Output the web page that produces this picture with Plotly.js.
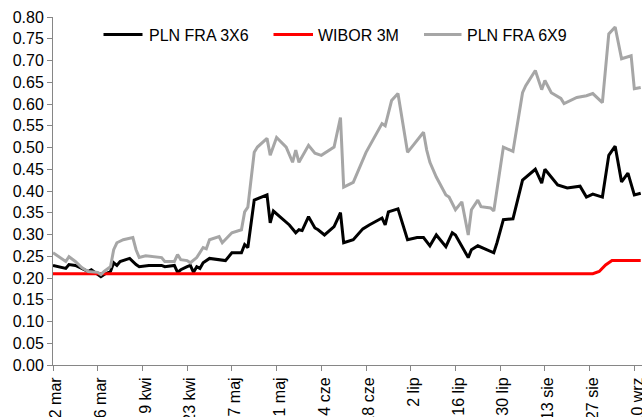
<!DOCTYPE html>
<html>
<head>
<meta charset="utf-8">
<script src="https://cdn.plot.ly/plotly-3.0.1.min.js"></script>
<style>html,body{margin:0;padding:0;background:#fff;}#chart{width:642px;height:417px;}</style>
</head>
<body>
<div id="chart"></div>
<script>
// PLN FRA 3X6
const fra36Dates = ["2021-03-12","2021-03-16","2021-03-17","2021-03-19","2021-03-21","2021-03-23","2021-03-24","2021-03-26","2021-03-27","2021-03-28","2021-03-30","2021-03-31","2021-04-01","2021-04-02","2021-04-05","2021-04-07","2021-04-08","2021-04-11","2021-04-15","2021-04-16","2021-04-19","2021-04-20","2021-04-21","2021-04-23","2021-04-24","2021-04-25","2021-04-26","2021-04-27","2021-04-28","2021-04-30","2021-05-05","2021-05-07","2021-05-10","2021-05-11","2021-05-12","2021-05-14","2021-05-18","2021-05-19","2021-05-20","2021-05-22","2021-05-25","2021-05-27","2021-05-28","2021-05-29","2021-05-31","2021-06-02","2021-06-03","2021-06-05","2021-06-08","2021-06-10","2021-06-11","2021-06-14","2021-06-17","2021-06-19","2021-06-22","2021-06-23","2021-06-24","2021-06-25","2021-06-28","2021-06-29","2021-07-01","2021-07-04","2021-07-06","2021-07-08","2021-07-10","2021-07-13","2021-07-15","2021-07-16","2021-07-20","2021-07-21","2021-07-23","2021-07-28","2021-07-29","2021-07-31","2021-08-03","2021-08-06","2021-08-10","2021-08-12","2021-08-13","2021-08-17","2021-08-20","2021-08-24","2021-08-26","2021-08-28","2021-08-31","2021-09-02","2021-09-04","2021-09-06","2021-09-08","2021-09-10","2021-09-12"];
const fra36Values = [0.229,0.222,0.231,0.229,0.222,0.215,0.219,0.208,0.203,0.208,0.215,0.235,0.229,0.238,0.245,0.231,0.226,0.229,0.229,0.226,0.229,0.213,0.219,0.226,0.229,0.213,0.226,0.222,0.235,0.245,0.240,0.258,0.258,0.277,0.270,0.379,0.391,0.327,0.354,0.341,0.322,0.304,0.311,0.309,0.341,0.315,0.311,0.299,0.318,0.350,0.281,0.288,0.313,0.322,0.334,0.338,0.322,0.352,0.359,0.334,0.288,0.293,0.293,0.274,0.299,0.272,0.304,0.299,0.247,0.265,0.274,0.258,0.281,0.334,0.336,0.425,0.450,0.418,0.450,0.414,0.407,0.411,0.386,0.393,0.386,0.482,0.503,0.421,0.441,0.391,0.395];

// WIBOR 3M
const wiborDates = ["2021-03-12","2021-08-28","2021-08-30","2021-08-31","2021-09-01","2021-09-03","2021-09-12"];
const wiborValues = [0.21,0.21,0.215,0.222,0.23,0.24,0.24];

// PLN FRA 6X9
const fra69Dates = ["2021-03-12","2021-03-16","2021-03-17","2021-03-19","2021-03-21","2021-03-23","2021-03-26","2021-03-27","2021-03-28","2021-03-30","2021-03-31","2021-04-01","2021-04-03","2021-04-05","2021-04-06","2021-04-07","2021-04-08","2021-04-10","2021-04-13","2021-04-15","2021-04-16","2021-04-19","2021-04-20","2021-04-21","2021-04-23","2021-04-24","2021-04-26","2021-04-27","2021-04-28","2021-04-29","2021-04-30","2021-05-03","2021-05-04","2021-05-07","2021-05-10","2021-05-11","2021-05-12","2021-05-14","2021-05-15","2021-05-18","2021-05-19","2021-05-21","2021-05-24","2021-05-26","2021-05-27","2021-05-28","2021-05-31","2021-06-02","2021-06-04","2021-06-08","2021-06-10","2021-06-11","2021-06-14","2021-06-18","2021-06-21","2021-06-23","2021-06-24","2021-06-26","2021-06-28","2021-07-01","2021-07-02","2021-07-06","2021-07-07","2021-07-08","2021-07-10","2021-07-13","2021-07-14","2021-07-16","2021-07-18","2021-07-20","2021-07-21","2021-07-23","2021-07-24","2021-07-27","2021-07-28","2021-07-31","2021-08-03","2021-08-06","2021-08-07","2021-08-10","2021-08-12","2021-08-13","2021-08-15","2021-08-18","2021-08-19","2021-08-23","2021-08-26","2021-08-28","2021-08-31","2021-09-02","2021-09-04","2021-09-06","2021-09-09","2021-09-10","2021-09-12"];
const fra69Values = [0.258,0.238,0.249,0.238,0.224,0.215,0.213,0.208,0.215,0.226,0.265,0.281,0.288,0.291,0.293,0.265,0.247,0.251,0.249,0.247,0.238,0.238,0.254,0.242,0.240,0.235,0.247,0.258,0.270,0.267,0.288,0.295,0.281,0.304,0.311,0.352,0.363,0.489,0.501,0.521,0.482,0.523,0.501,0.466,0.494,0.466,0.505,0.487,0.482,0.501,0.569,0.409,0.420,0.489,0.528,0.555,0.550,0.608,0.624,0.489,0.498,0.535,0.494,0.466,0.432,0.391,0.386,0.357,0.375,0.299,0.357,0.379,0.364,0.361,0.354,0.501,0.491,0.626,0.642,0.677,0.633,0.654,0.626,0.613,0.601,0.615,0.619,0.624,0.603,0.761,0.777,0.704,0.711,0.635,0.638];

// X axis ticks
const tickDates = ["2021-03-12","2021-03-26","2021-04-09","2021-04-23","2021-05-07","2021-05-21","2021-06-04","2021-06-18","2021-07-02","2021-07-16","2021-07-30","2021-08-13","2021-08-27","2021-09-10"];
const tickLabels = ["12 mar","26 mar","9 kwi","23 kwi","7 maj","21 maj","4 cze","18 cze","2 lip","16 lip","30 lip","13 sie","27 sie","10 wrz"];

// Series names and colours
const seriesNames = ['PLN FRA 3X6', 'WIBOR 3M', 'PLN FRA 6X9'];
const seriesColors = ['#000000', '#ff0000', '#a6a6a6'];

const font = {family: '"Liberation Sans", Arial, sans-serif', size: 16, color: '#000'};
const axisGrey = '#868686';

const seriesX = [fra36Dates, wiborDates, fra69Dates];
const seriesY = [fra36Values, wiborValues, fra69Values];

const traces = seriesNames.map((name, i) => ({
  x: seriesX[i], y: seriesY[i], name: name, type: 'scatter', mode: 'lines',
  line: {color: seriesColors[i], width: 3}
}));

// Hand-built legend (paper coordinates) to match the original spacing
const L = 53, PW = 589, PB = 365, PH = 348;
const px = v => (v - L) / PW;
const py = v => (PB - v) / PH;
const legendItems = [
  {x0: 103.5, x1: 142.5, tx: 146.5},
  {x0: 273.5, x1: 313, tx: 315.5},
  {x0: 424, x1: 461.5, tx: 464.5}
];
const legendY = 34.5;
const shapes = legendItems.map((it, i) => ({
  type: 'line', xref: 'paper', yref: 'paper',
  x0: px(it.x0), x1: px(it.x1), y0: py(legendY), y1: py(legendY),
  line: {color: seriesColors[i], width: 3}
}));
const annotations = legendItems.map((it, i) => ({
  xref: 'paper', yref: 'paper', x: px(it.tx), y: py(legendY + 0.5),
  xanchor: 'left', yanchor: 'middle', showarrow: false,
  text: seriesNames[i], font: font
}));

const layout = {
  width: 642, height: 417,
  margin: {l: 53, r: 0, t: 17, b: 52, pad: 0},
  paper_bgcolor: '#fff', plot_bgcolor: '#fff',
  font: font,
  showlegend: false,
  shapes: shapes,
  annotations: annotations,
  xaxis: {
    type: 'date',
    range: ['2021-03-12', '2021-09-12 09:36'],
    tickvals: tickDates, ticktext: tickLabels, tickangle: -90,
    ticklabeloverflow: 'allow', ticklabelshift: 3,
    showline: true, linecolor: axisGrey, linewidth: 1,
    ticks: 'outside', ticklen: 5, tickcolor: axisGrey,
    showgrid: false, zeroline: false, tickfont: font
  },
  yaxis: {
    range: [0, 0.8], dtick: 0.05, tick0: 0, tickformat: '.2f',
    showline: true, linecolor: axisGrey, linewidth: 1,
    ticks: 'outside', ticklen: 5, tickcolor: axisGrey,
    showgrid: false, zeroline: false, tickfont: font
  }
};

Plotly.newPlot('chart', traces, layout, {displayModeBar: false, staticPlot: true});
</script>
</body>
</html>
